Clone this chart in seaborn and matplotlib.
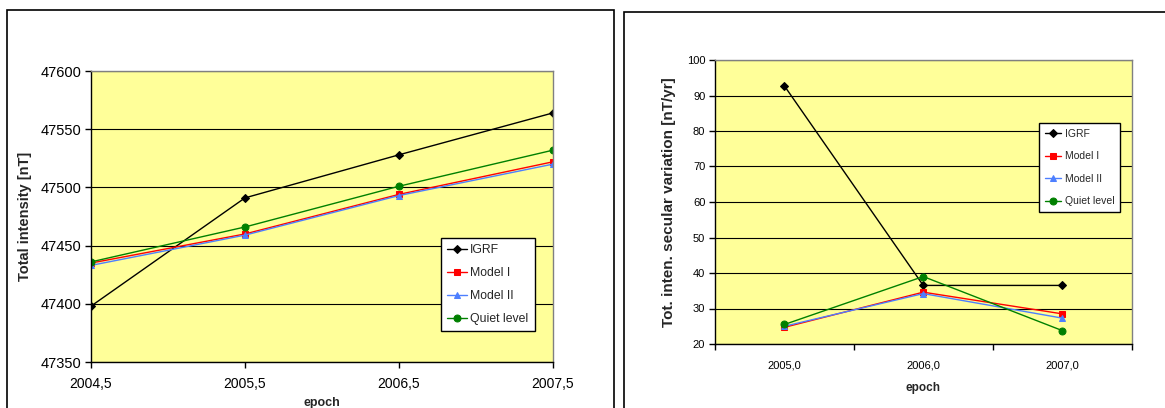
import matplotlib
matplotlib.use("Agg")
import matplotlib.pyplot as plt
import matplotlib.patches as mpatches
import seaborn as sns
import pandas as pd

# Total intensity at each epoch [nT]
epochs_ti = [2004.5, 2005.5, 2006.5, 2007.5]
igrf_ti = [47398, 47491, 47528, 47564]
model1_ti = [47435, 47460, 47494, 47522]
model2_ti = [47433, 47459, 47493, 47520]
quiet_ti = [47436, 47466, 47501, 47532]

# Secular variation of total intensity [nT/yr]
epochs_sv = ["2005,0", "2006,0", "2007,0"]
igrf_sv = [92.7, 36.5, 36.5]
model1_sv = [24.7, 34.6, 28.5]
model2_sv = [25.0, 34.2, 27.3]
quiet_sv = [25.5, 39.0, 23.8]

series_names = ["IGRF", "Model I", "Model II", "Quiet level"]
colors = ["#000000", "#FF0000", "#4D7FFF", "#008000"]
markers = ["D", "s", "^", "o"]

sns.set_theme(style="white")
plt.rcParams["font.family"] = ["Liberation Sans", "DejaVu Sans"]

fig = plt.figure(figsize=(11.65, 4.08), dpi=100)

# chart frames
fig.patches.append(mpatches.Rectangle((7 / 1165, -0.1), (614 - 7) / 1165, 1.1 - 10 / 408,
                                      transform=fig.transFigure, fill=False,
                                      edgecolor="black", linewidth=1.2))
fig.patches.append(mpatches.Rectangle((624 / 1165, -0.1), 0.5, 1.1 - 12 / 408,
                                      transform=fig.transFigure, fill=False,
                                      edgecolor="black", linewidth=1.2))

plot_bg = "#FFFF99"


def style_axes(ax):
    ax.set_facecolor(plot_bg)
    for side in ["top", "right"]:
        ax.spines[side].set_color("#808080")
        ax.spines[side].set_linewidth(1.0)
    for side in ["left", "bottom"]:
        ax.spines[side].set_color("black")
        ax.spines[side].set_linewidth(1.0)
    ax.grid(axis="y", color="black", linewidth=0.8)
    ax.grid(axis="x", visible=False)
    ax.set_axisbelow(True)


# ---- left chart: total intensity ----
ax1 = fig.add_axes([91 / 1165, 1 - 362 / 408, (553 - 91) / 1165, (362 - 71) / 408])
style_axes(ax1)
for name, vals, c, m in zip(series_names, [igrf_ti, model1_ti, model2_ti, quiet_ti], colors, markers):
    df = pd.DataFrame({"epoch": epochs_ti, "value": vals})
    sns.lineplot(data=df, x="epoch", y="value", ax=ax1, color=c, marker=m,
                 markersize=5 if m != "D" else 4.5, markeredgecolor=c,
                 linewidth=1.0, label=name)
ax1.set_xlim(2004.5, 2007.5)
ax1.set_ylim(47350, 47600)
ax1.set_xticks(epochs_ti)
ax1.set_xticklabels([f"{e:.1f}".replace(".", ",") for e in epochs_ti])
ax1.set_yticks(range(47350, 47601, 50))
ax1.tick_params(axis="y", direction="out", length=4, width=1, colors="black",
                labelsize=10.5, left=True, pad=3)
ax1.tick_params(axis="x", direction="out", length=4, width=1, colors="black",
                labelsize=10, bottom=True, pad=7)
ax1.set_xlabel("epoch", fontsize=9, fontweight="bold", labelpad=4)
ax1.set_ylabel("Total intensity [nT]", fontsize=10.5, fontweight="bold", labelpad=6)
leg1 = ax1.legend(loc="upper left", bbox_to_anchor=(441 / 1165, 1 - 238 / 408),
                  bbox_transform=fig.transFigure, frameon=True, fancybox=False,
                  edgecolor="black", framealpha=1, fontsize=8.8, handlelength=1.6,
                  handletextpad=0.3, labelspacing=0.9, borderpad=0.5, borderaxespad=0)
leg1.get_frame().set_linewidth(1.0)

# ---- right chart: secular variation ----
ax2 = fig.add_axes([715 / 1165, 1 - 344 / 408, (1131.5 - 715) / 1165, (344 - 60) / 408])
style_axes(ax2)
pos = list(range(len(epochs_sv)))
for name, vals, c, m in zip(series_names, [igrf_sv, model1_sv, model2_sv, quiet_sv], colors, markers):
    df = pd.DataFrame({"pos": pos, "value": vals})
    sns.lineplot(data=df, x="pos", y="value", ax=ax2, color=c, marker=m,
                 markersize=5 if m != "D" else 4.5, markeredgecolor=c,
                 linewidth=1.0, label=name)
ax2.set_xlim(-0.5, len(epochs_sv) - 0.5)
ax2.set_ylim(20, 100)
ax2.set_yticks(range(20, 101, 10))
ax2.set_xticks([p - 0.5 for p in pos] + [len(epochs_sv) - 0.5])
ax2.set_xticklabels([])
ax2.set_xticks(pos, minor=True)
ax2.set_xticklabels(epochs_sv, minor=True)
ax2.tick_params(axis="x", which="major", direction="out", length=4, width=1, colors="black", bottom=True)
ax2.tick_params(axis="x", which="minor", length=0, labelsize=8, pad=12, colors="black")
ax2.tick_params(axis="y", direction="out", length=4, width=1, colors="black", labelsize=8, left=True, pad=3)
ax2.set_xlabel("epoch", fontsize=8.5, fontweight="bold", labelpad=8)
ax2.set_ylabel("Tot. inten. secular variation [nT/yr]", fontsize=11, fontweight="bold", labelpad=8)
leg2 = ax2.legend(loc="upper left", bbox_to_anchor=(1039 / 1165, 1 - 123 / 408),
                  bbox_transform=fig.transFigure, frameon=True, fancybox=False,
                  edgecolor="black", framealpha=1, fontsize=7.5, handlelength=1.6,
                  handletextpad=0.3, labelspacing=1.2, borderpad=0.55, borderaxespad=0)
leg2.get_frame().set_linewidth(1.0)

fig.savefig("out.png", dpi=100)
